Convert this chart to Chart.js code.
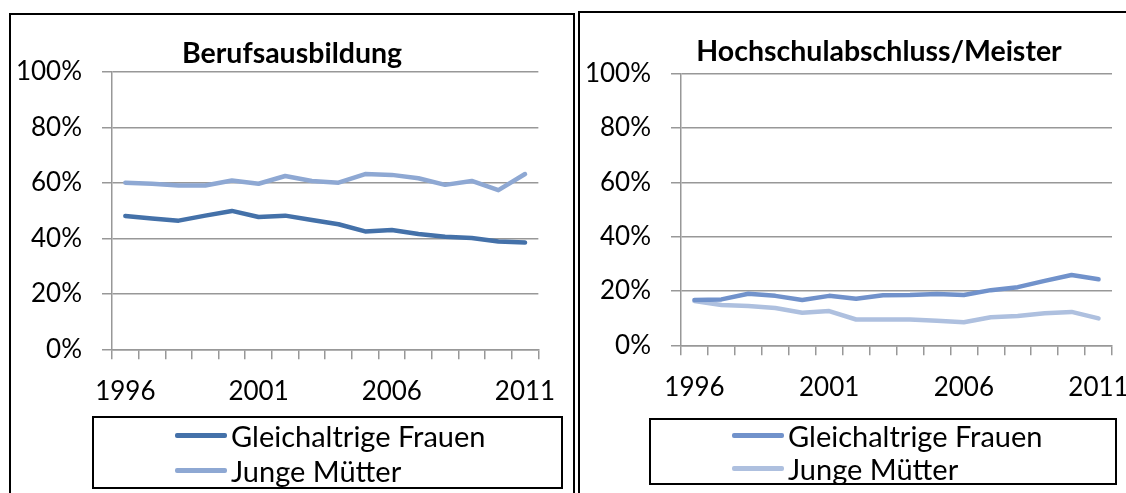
<!DOCTYPE html>
<html>
<head>
<meta charset="utf-8">
<script src="https://cdn.jsdelivr.net/npm/chart.js@4.4.1/dist/chart.umd.min.js"></script>
<style>
    html, body { margin: 0; padding: 0; background: #fff; overflow: hidden; width: 1126px; height: 493px; }
    .panel { position: absolute; border: 2px solid #000; box-sizing: border-box; background: #fff; }
    .panel canvas { position: absolute; left: 0; top: 0; }
    .legend { position: absolute; border: 2px solid #000; box-sizing: border-box; font-family: Lato, sans-serif; font-size: 29px; color: #000; }
    .legend .row { position: absolute; left: 0; right: 0; height: 34px; display: flex; align-items: center; }
    .legend .swatch { width: 52px; height: 5px; border-radius: 2px; margin-right: 4px; }
</style>
</head>
<body>
<div class="panel" id="panelLeft" style="left:9px; top:13px; width:566px; height:500px;">
    <canvas id="chartLeft" width="562" height="480"></canvas>
    <div class="legend" id="legendLeft" style="left:81px; top:401px; width:471px; height:73px;"></div>
</div>
<div class="panel" id="panelRight" style="left:578px; top:11px; width:602px; height:500px;">
    <canvas id="chartRight" width="598" height="480"></canvas>
    <div class="legend" id="legendRight" style="left:69px; top:405px; width:468px; height:67px;"></div>
</div>

<script>
// Data (percent)
const years = ['1996', '1997', '1998', '1999', '2000', '2001', '2002', '2003',
               '2004', '2005', '2006', '2007', '2008', '2009', '2010', '2011'];
const seriesNames = ['Gleichaltrige Frauen', 'Junge Mütter'];
const yTicks = [0, 20, 40, 60, 80, 100];

const berufFrauen = [48.1, 47.2, 46.4, 48.2, 49.9, 47.7, 48.2, 46.6, 45.1, 42.5, 43.0, 41.6, 40.6, 40.1, 38.9, 38.5];
const berufMuetter = [60.1, 59.7, 59.1, 59.1, 60.9, 59.7, 62.5, 60.7, 60.1, 63.2, 62.9, 61.7, 59.3, 60.7, 57.4, 63.2];
const hochFrauen = [16.7, 16.9, 19.0, 18.2, 16.7, 18.2, 17.1, 18.4, 18.5, 18.9, 18.5, 20.3, 21.4, 23.7, 25.9, 24.3];
const hochMuetter = [16.3, 14.8, 14.5, 13.7, 12.0, 12.6, 9.5, 9.5, 9.5, 9.0, 8.5, 10.3, 10.8, 11.8, 12.3, 9.9];

const axisGray = '#989898';
const fontFamily = 'Lato, sans-serif';

// Build one panel chart
function makeChart(canvasId, legendId, title, dataA, dataB, colors, geom) {
    const ctx = document.getElementById(canvasId).getContext('2d');

    const chart = new Chart(ctx, {
        type: 'line',
        data: {
            labels: years,
            datasets: [
                { label: seriesNames[0], data: dataA, borderColor: colors[0], backgroundColor: colors[0] },
                { label: seriesNames[1], data: dataB, borderColor: colors[1], backgroundColor: colors[1] }
            ]
        },
        options: {
            responsive: false,
            devicePixelRatio: 1,
            animation: false,
            elements: {
                line: { borderWidth: 4.5, tension: 0, borderCapStyle: 'round', borderJoinStyle: 'round' },
                point: { radius: 0, hoverRadius: 0 }
            },
            layout: {
                padding: { left: 0, top: 0, right: 0, bottom: geom.padBottom }
            },
            plugins: {
                legend: { display: false },
                tooltip: { enabled: false },
                title: {
                    display: true,
                    text: title,
                    color: '#000',
                    font: { family: fontFamily, size: 28.5, weight: 'bold', lineHeight: 1.2 },
                    padding: { top: 22, bottom: geom.titleBottom }
                }
            },
            scales: {
                x: {
                    offset: true,
                    grid: {
                        display: true,
                        offset: true,
                        drawOnChartArea: false,
                        drawTicks: true,
                        tickLength: 10,
                        color: axisGray,
                        lineWidth: 1.5
                    },
                    border: { color: axisGray, width: 1.5 },
                    ticks: {
                        autoSkip: false,
                        maxRotation: 0,
                        padding: 17,
                        color: '#000',
                        font: { family: fontFamily, size: 26 },
                        callback: function(value, index) {
                            return index % 5 === 0 ? this.getLabelForValue(value) : '';
                        }
                    },
                    afterFit: function(scale) { scale.height = 60; }
                },
                y: {
                    min: 0,
                    max: 100,
                    grid: {
                        color: axisGray,
                        lineWidth: 1.5,
                        drawTicks: true,
                        tickLength: 10
                    },
                    border: { color: axisGray, width: 1.5 },
                    ticks: {
                        padding: 20,
                        color: '#000',
                        font: { family: fontFamily, size: 26 },
                        callback: function(value) { return value + '%'; }
                    },
                    afterBuildTicks: function(scale) {
                        scale.ticks = yTicks.map(v => ({ value: v }));
                    },
                    afterFit: function(scale) { scale.width = 101; }
                },
                // empty spacer on the right so the title stays centred on the panel
                spacer: {
                    axis: 'y',
                    position: 'right',
                    min: 0,
                    max: 100,
                    grid: { display: false, drawTicks: false },
                    border: { display: false },
                    ticks: { display: false },
                    afterFit: function(scale) { scale.width = geom.spacer; }
                }
            }
        }
    });

    buildLegend(chart, legendId, geom.legendRows);
    return chart;
}

// HTML legend stacked vertically inside a bordered box
function buildLegend(chart, legendId, rows) {
    const box = document.getElementById(legendId);
    const items = chart.options.plugins.legend.labels.generateLabels(chart);
    items.forEach((item, i) => {
        const row = document.createElement('div');
        row.className = 'row';
        row.style.top = (rows[i] - 17) + 'px';
        row.style.paddingLeft = '81px';

        const swatch = document.createElement('span');
        swatch.className = 'swatch';
        swatch.style.background = item.strokeStyle;

        const text = document.createElement('span');
        text.textContent = item.text;

        row.appendChild(swatch);
        row.appendChild(text);
        box.appendChild(row);
    });
}

makeChart('chartLeft', 'legendLeft', 'Berufsausbildung', berufFrauen, berufMuetter,
    ['#4471a9', '#8ea8d3'],
    { spacer: 26, padBottom: 85.7, titleBottom: 0.8, legendRows: [17, 52] });

makeChart('chartRight', 'legendRight', 'Hochschulabschluss/Meister', hochFrauen, hochMuetter,
    ['#7192cb', '#aec0df'],
    { spacer: 66, padBottom: 87.7, titleBottom: 4.4, legendRows: [15, 48] });
</script>
</body>
</html>
